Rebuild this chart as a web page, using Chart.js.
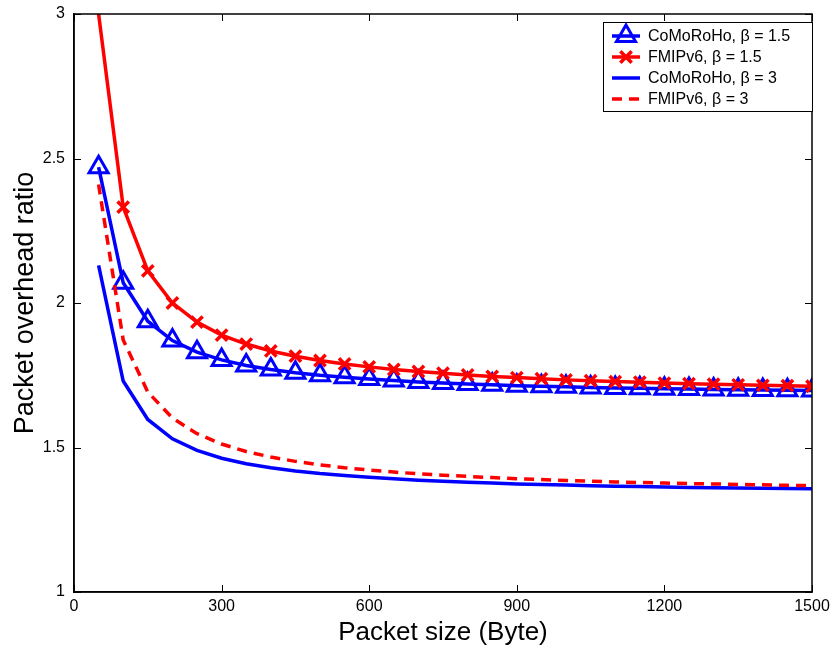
<!DOCTYPE html>
<html>
<head>
<meta charset="utf-8">
<title>Packet overhead ratio</title>
<script src="https://cdn.jsdelivr.net/npm/chart.js@4.4.0/dist/chart.umd.min.js"></script>
<style>
  html, body { margin: 0; padding: 0; background: #fff; }
  #wrap { width: 831px; height: 648px; }
</style>
</head>
<body>
<div id="wrap"><canvas id="myChart" width="831" height="648"></canvas></div>
<script>
// data
const packetSizes = [50, 100, 150, 200, 250, 300, 350, 400, 450, 500,
  550, 600, 650, 700, 750, 800, 850, 900, 950, 1000,
  1050, 1100, 1150, 1200, 1250, 1300, 1350, 1400, 1450, 1500];

const comorohoBeta15 = [2.47, 2.07, 1.937, 1.87, 1.83, 1.803, 1.784, 1.77, 1.759, 1.75,
  1.743, 1.737, 1.732, 1.727, 1.723, 1.72, 1.717, 1.714, 1.712, 1.71,
  1.708, 1.706, 1.705, 1.703, 1.702, 1.701, 1.70, 1.699, 1.698, 1.697];

const fmipBeta15 = [3.0, 2.332, 2.111, 2.0, 1.934, 1.889, 1.858, 1.834, 1.816, 1.801,
  1.789, 1.779, 1.77, 1.763, 1.757, 1.751, 1.746, 1.742, 1.738, 1.734,
  1.731, 1.728, 1.726, 1.723, 1.721, 1.719, 1.717, 1.715, 1.714, 1.712];

const comorohoBeta3 = [2.13, 1.73, 1.597, 1.53, 1.49, 1.463, 1.444, 1.43, 1.419, 1.41,
  1.403, 1.397, 1.392, 1.387, 1.383, 1.38, 1.377, 1.374, 1.372, 1.37,
  1.368, 1.366, 1.365, 1.363, 1.362, 1.361, 1.36, 1.359, 1.358, 1.357];

const fmipBeta3 = [2.41, 1.872, 1.692, 1.602, 1.548, 1.512, 1.486, 1.467, 1.452, 1.44,
  1.43, 1.422, 1.415, 1.409, 1.404, 1.4, 1.396, 1.392, 1.389, 1.386,
  1.383, 1.381, 1.379, 1.377, 1.375, 1.374, 1.372, 1.371, 1.369, 1.368];

const seriesLabels = ['CoMoRoHo, β = 1.5', 'FMIPv6, β = 1.5', 'CoMoRoHo, β = 3', 'FMIPv6, β = 3'];
const xTicks = [0, 300, 600, 900, 1200, 1500];
const yTicks = [1, 1.5, 2, 2.5, 3];

const BLUE = '#0000ff';
const RED = '#ff0000';

function toPoints(values) {
  return packetSizes.map((s, i) => ({ x: s, y: values[i] }));
}

Chart.defaults.font.family = "'Liberation Sans', Arial, Helvetica, sans-serif";
Chart.defaults.color = '#000';

// box round the plot plus inward ticks, the way matlab draws them
const frameTicks = {
  id: 'frameTicks',
  afterDatasetsDraw(chart) {
    const { ctx, chartArea: a, scales } = chart;
    ctx.save();
    ctx.strokeStyle = '#000';
    ctx.lineWidth = 1;
    ctx.beginPath();
    xTicks.forEach(v => {
      const px = Math.round(scales.x.getPixelForValue(v)) + 0.5;
      ctx.moveTo(px, a.bottom); ctx.lineTo(px, a.bottom - 7);
      ctx.moveTo(px, a.top); ctx.lineTo(px, a.top + 7);
    });
    yTicks.forEach(v => {
      const py = Math.round(scales.y.getPixelForValue(v)) + 0.5;
      ctx.moveTo(a.left, py); ctx.lineTo(a.left + 7, py);
      ctx.moveTo(a.right, py); ctx.lineTo(a.right - 7, py);
    });
    ctx.stroke();
    ctx.lineWidth = 1.5;
    ctx.strokeRect(a.left, a.top, a.right - a.left, a.bottom - a.top);
    ctx.restore();
  }
};

function drawMarker(ctx, style, x, y, r) {
  ctx.beginPath();
  if (style === 'triangle') {
    for (let k = 0; k < 3; k++) {
      const ang = k * 2 * Math.PI / 3;
      const px = x + Math.sin(ang) * r, py = y - Math.cos(ang) * r;
      if (k === 0) ctx.moveTo(px, py); else ctx.lineTo(px, py);
    }
    ctx.closePath();
  } else if (style === 'crossRot') {
    const d = r * Math.SQRT1_2;
    ctx.moveTo(x - d, y - d); ctx.lineTo(x + d, y + d);
    ctx.moveTo(x - d, y + d); ctx.lineTo(x + d, y - d);
  }
  ctx.stroke();
}

// legend box inside the top right corner
const boxLegend = {
  id: 'boxLegend',
  afterDraw(chart) {
    const { ctx, chartArea: a } = chart;
    const w = 209, h = 89;
    const bx = a.right - w, by = a.top + 8;
    ctx.save();
    ctx.fillStyle = '#fff';
    ctx.fillRect(bx, by, w, h);
    ctx.strokeStyle = '#000';
    ctx.lineWidth = 1;
    ctx.strokeRect(bx + 0.5, by + 0.5, w, h);
    chart.data.datasets.forEach((ds, i) => {
      const cy = by + 14 + i * 21;
      ctx.strokeStyle = ds.borderColor;
      ctx.lineWidth = ds.borderWidth;
      ctx.setLineDash(ds.borderDash || []);
      ctx.beginPath();
      ctx.moveTo(bx + 9, cy); ctx.lineTo(bx + 37, cy);
      ctx.stroke();
      ctx.setLineDash([]);
      if (ds.legendMarker) {
        ctx.lineWidth = ds.pointBorderWidth;
        drawMarker(ctx, ds.pointStyle, bx + 23, cy, ds.legendMarker);
      }
      ctx.fillStyle = '#000';
      ctx.font = "16px 'Liberation Sans', Arial, sans-serif";
      ctx.textAlign = 'left';
      ctx.textBaseline = 'middle';
      ctx.fillText(ds.label, bx + 45, cy + 1);
    });
    ctx.restore();
  }
};

new Chart(document.getElementById('myChart'), {
  type: 'line',
  data: {
    datasets: [
      {
        label: seriesLabels[0],
        data: toPoints(comorohoBeta15),
        borderColor: BLUE,
        borderWidth: 3.5,
        pointStyle: 'triangle',
        pointRadius: 11,
        pointBorderWidth: 3,
        pointBorderColor: BLUE,
        pointBackgroundColor: 'rgba(0,0,0,0)',
        legendMarker: 11,
        order: 3
      },
      {
        label: seriesLabels[1],
        data: toPoints(fmipBeta15),
        borderColor: RED,
        borderWidth: 3.5,
        pointStyle: 'crossRot',
        pointRadius: ctx => (ctx.raw && ctx.raw.y >= 3 ? 0 : 8),
        pointBorderWidth: 3.5,
        pointBorderColor: RED,
        legendMarker: 8,
        order: 2
      },
      {
        label: seriesLabels[2],
        data: toPoints(comorohoBeta3),
        borderColor: BLUE,
        borderWidth: 3.5,
        pointRadius: 0,
        order: 1
      },
      {
        label: seriesLabels[3],
        data: toPoints(fmipBeta3),
        borderColor: RED,
        borderWidth: 3.5,
        borderDash: [10, 7],
        pointRadius: 0,
        order: 0
      }
    ]
  },
  options: {
    responsive: false,
    animation: false,
    devicePixelRatio: 1,
    layout: { padding: { top: 11, right: 19, left: 0, bottom: 0 } },
    elements: { line: { tension: 0, fill: false } },
    plugins: {
      legend: { display: false },
      tooltip: { enabled: false }
    },
    scales: {
      x: {
        type: 'linear',
        min: 0,
        max: 1500,
        afterBuildTicks: s => { s.ticks = xTicks.map(v => ({ value: v })); },
        afterFit: s => { s.height = 56; s.paddingLeft = 0; s.paddingRight = 0; },
        grid: { drawOnChartArea: false, drawTicks: false },
        border: { color: '#000', width: 1.5 },
        ticks: {
          padding: 5,
          maxRotation: 0,
          font: { size: 16 },
          callback: v => String(v)
        },
        title: {
          display: true,
          text: 'Packet size (Byte)',
          font: { size: 26 },
          padding: { top: 0, bottom: 0 }
        }
      },
      y: {
        min: 1,
        max: 3,
        afterBuildTicks: s => { s.ticks = yTicks.map(v => ({ value: v })); },
        afterFit: s => { s.width = 74; s.paddingTop = 0; s.paddingBottom = 0; },
        grid: { drawOnChartArea: false, drawTicks: false },
        border: { color: '#000', width: 1.5 },
        ticks: {
          padding: 9,
          font: { size: 16 },
          callback: v => String(v)
        },
        title: {
          display: true,
          text: 'Packet overhead ratio',
          font: { size: 27 },
          padding: { top: 9, bottom: 0 }
        }
      }
    }
  },
  plugins: [frameTicks, boxLegend]
});
</script>
</body>
</html>
